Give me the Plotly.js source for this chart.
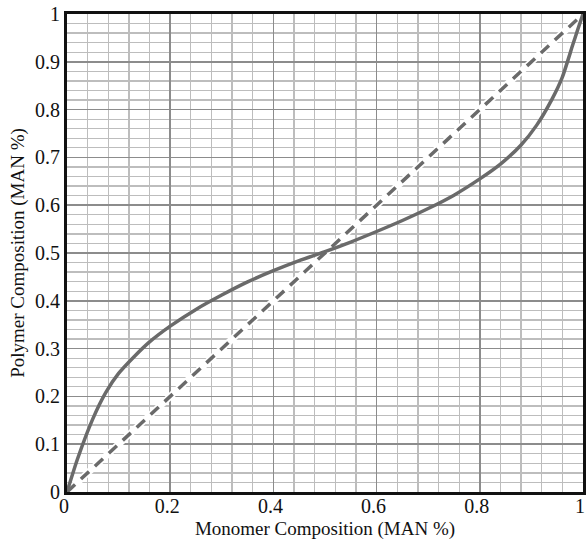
<!DOCTYPE html>
<html>
<head>
<meta charset="utf-8">
<script src="https://cdn.plot.ly/plotly-3.0.1.min.js"></script>
<style>html,body{margin:0;padding:0;background:#fff;}#chart{width:586px;height:549px;}</style>
</head>
<body>
<div id="chart"></div>
<script>
// Solid curve: copolymer composition
var monomerX = [0, 0.02, 0.05, 0.075, 0.1, 0.13, 0.16, 0.2, 0.25, 0.3, 0.35, 0.4, 0.45, 0.5, 0.55, 0.6, 0.65, 0.7, 0.75, 0.8, 0.84, 0.88, 0.91, 0.94, 0.96, 0.98, 0.99, 1];
var polymerY = [0, 0.068, 0.153, 0.208, 0.248, 0.283, 0.314, 0.347, 0.382, 0.412, 0.4395, 0.463, 0.484, 0.503, 0.523, 0.545, 0.568, 0.593, 0.621, 0.655, 0.686, 0.726, 0.767, 0.822, 0.868, 0.935, 0.968, 1];
// Dashed diagonal
var idealX = [0, 1];
var idealY = [0, 1];
var xTicks = [0, 0.2, 0.4, 0.6, 0.8, 1];
var xTickText = ['0', '0.2', '0.4', '0.6', '0.8', '1'];
var yTicks = [0, 0.1, 0.2, 0.3, 0.4, 0.5, 0.6, 0.7, 0.8, 0.9, 1];
var yTickText = ['0', '0.1', '0.2', '0.3', '0.4', '0.5', '0.6', '0.7', '0.8', '0.9', '1'];

var font = '"Liberation Serif", "Times New Roman", Times, serif';
var traces = [
  {x: idealX, y: idealY, mode: 'lines', line: {color: '#ffffff', width: 7}, hoverinfo: 'skip', showlegend: false},
  {x: idealX, y: idealY, mode: 'lines', line: {color: '#6a6a6a', width: 3.5, dash: '11px,8px'}, showlegend: false},
  {x: monomerX, y: polymerY, mode: 'lines', line: {color: '#6a6a6a', width: 3.5, shape: 'spline', smoothing: 0.6}, showlegend: false}
];
var layout = {
  width: 586, height: 549,
  margin: {l: 67, r: 3, t: 14, b: 57},
  paper_bgcolor: '#fff', plot_bgcolor: '#fff',
  showlegend: false,
  font: {family: font, color: '#111', size: 18},
  xaxis: {
    range: [0, 1], tickvals: xTicks, ticktext: xTickText, ticks: '',
    ticklabeloverflow: 'allow', ticklabelshift: -3, ticklabelstandoff: -6,
    showgrid: true, gridcolor: '#8c8c8c', gridwidth: 1.5,
    minor: {dtick: 0.04, tick0: 0, showgrid: true, gridcolor: '#bdbdbd', gridwidth: 1.3},
    showline: true, linecolor: '#111', linewidth: 3, mirror: true, zeroline: false,
    tickfont: {family: font, size: 20, color: '#111'},
    title: {text: 'Monomer Composition (MAN %)', font: {family: font, size: 19, color: '#111'}, standoff: 6}
  },
  yaxis: {
    range: [0, 1], tickvals: yTicks, ticktext: yTickText, ticks: '',
    ticklabeloverflow: 'allow',
    showgrid: true, gridcolor: '#8c8c8c', gridwidth: 1.5,
    minor: {dtick: 0.02, tick0: 0, showgrid: true, gridcolor: '#bdbdbd', gridwidth: 1.3},
    showline: true, linecolor: '#111', linewidth: 3, mirror: true, zeroline: false,
    tickfont: {family: font, size: 20, color: '#111'},
    title: {text: 'Polymer Composition (MAN %)', font: {family: font, size: 19, color: '#111'}, standoff: 6}
  }
};
Plotly.newPlot('chart', traces, layout, {displayModeBar: false, staticPlot: true});
</script>
</body>
</html>
